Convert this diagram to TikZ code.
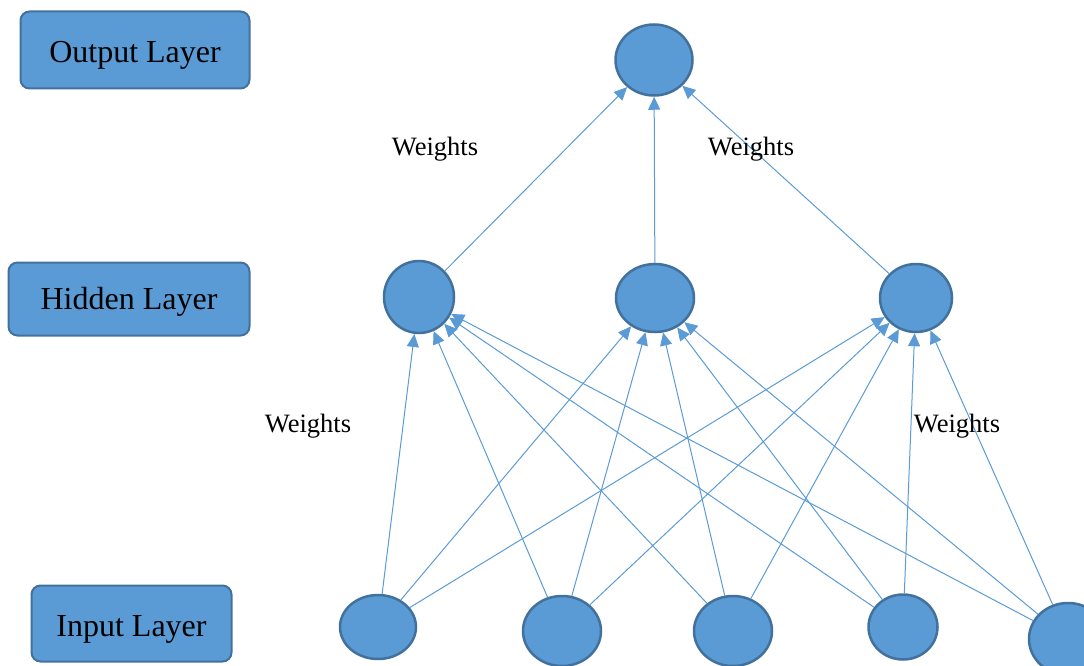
\documentclass[tikz,border=0pt]{standalone}
\usepackage{fontspec}
\setmainfont{Liberation Serif}
\usetikzlibrary{shapes.geometric,arrows.meta}
\definecolor{nfill}{HTML}{5B9BD5}
\definecolor{nborder}{HTML}{41719C}
\tikzset{
  layerbox/.style={draw=nborder, fill=nfill, line width=2pt, rounded corners=9pt, inner sep=0pt, text height=22pt, text depth=7pt, font=\fontsize{32}{36}\selectfont},
  neuron/.style={draw=nborder, fill=nfill, line width=2.5pt, ellipse, inner sep=0pt},
  conn/.style={draw=nfill, line width=1pt, -{Triangle[length=13pt,width=12pt]}},
  wlabel/.style={font=\fontsize{26.5}{30}\selectfont, inner sep=0pt, anchor=base}
}
\newcommand{\lowered}[2]{\raisebox{-#1}[\height][\depth]{#2}}
\begin{document}
\begin{tikzpicture}[x=1pt,y=-1pt]
\useasboundingbox (0,0) rectangle (1084,666);
\clip (0,0) rectangle (1084,666);
% layer boxes
\node[layerbox, minimum width=229pt, minimum height=77pt] (bo) at (135,50) {\lowered{5.5pt}{Output Layer}};
\node[layerbox, minimum width=241pt, minimum height=73pt] (bh) at (129,299) {\lowered{3pt}{Hidden Layer}};
\node[layerbox, minimum width=200pt, minimum height=76pt] (bi) at (131.5,623.5) {\lowered{5.5pt}{Input Layer}};
% neurons
\node[neuron, minimum width=77pt, minimum height=71pt] (o) at (654,60) {};
\node[neuron, minimum width=70pt, minimum height=72pt] (h1) at (419,297) {};
\node[neuron, minimum width=78pt, minimum height=68pt] (h2) at (655,298) {};
\node[neuron, minimum width=72pt, minimum height=68pt] (h3) at (916,298) {};
\node[neuron, minimum width=76pt, minimum height=64pt] (i1) at (378,627) {};
\node[neuron, minimum width=78pt, minimum height=70pt] (i2) at (562,631) {};
\node[neuron, minimum width=78pt, minimum height=70pt] (i3) at (733,631) {};
\node[neuron, minimum width=69pt, minimum height=65pt] (i4) at (903,627) {};
\node[neuron, minimum width=78pt, minimum height=72pt] (i5) at (1068,639) {};
% connectors hidden -> output
\foreach \h in {h1,h2,h3} \draw[conn] (\h) -- (o);
% connectors input -> hidden
\foreach \i in {i1,i2,i3,i4,i5} {
  \foreach \h in {h1,h2,h3} \draw[conn] (\i) -- (\h);
}
% labels
\node[wlabel] (w1) at (435,156) {Weights};
\node[wlabel] (w2) at (751,156) {Weights};
\node[wlabel] (w3) at (308,432) {Weights};
\node[wlabel] (w4) at (957,432) {Weights};
\end{tikzpicture}
\end{document}
